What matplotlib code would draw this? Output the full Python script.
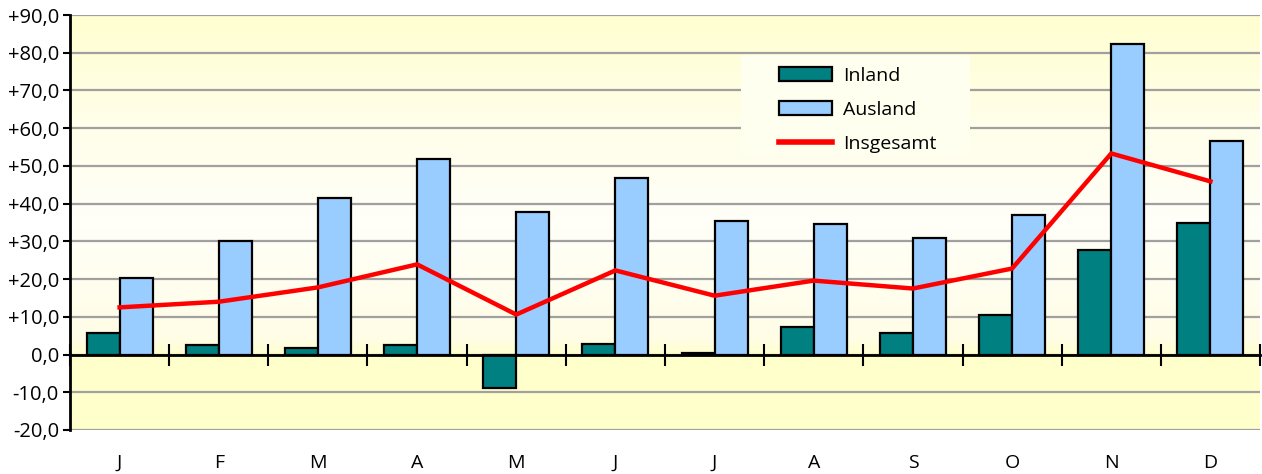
import matplotlib
matplotlib.use('Agg')
import matplotlib.pyplot as plt
import numpy as np
from matplotlib.colors import LinearSegmentedColormap
from matplotlib.ticker import FuncFormatter
from matplotlib.patches import Rectangle

months   = ['J', 'F', 'M', 'A', 'M', 'J', 'J', 'A', 'S', 'O', 'N', 'D']
inland   = [5.8, 2.4, 1.8, 2.6, -8.8, 2.9, 0.3, 7.4, 5.8, 10.6, 27.6, 35.0]
ausland  = [20.4, 30.2, 41.6, 51.7, 37.7, 46.7, 35.5, 34.5, 31.0, 37.1, 82.2, 56.5]
gesamt   = [12.5, 14.0, 17.8, 23.9, 10.6, 22.3, 15.6, 19.6, 17.5, 22.8, 53.3, 45.9]

plt.rcParams['font.family'] = ['Open Sans', 'DejaVu Sans']

W, H = 1262, 474
fig = plt.figure(figsize=(W/100., H/100.), dpi=100)
ax = fig.add_axes([70./W, 44./H, 1190./W, 415./H])

ymin, ymax = -20, 90
n = len(months)
x = np.arange(n)

# background gradient: yellow top, nearly white in the middle, yellow below zero
grad = LinearSegmentedColormap.from_list('bg', [
  (0.00, '#ffffcc'), (0.18, '#ffffcc'), (0.22, '#fffde6'),
  (0.50, '#fffff8'), (0.75, '#fffee8'), (1.00, '#ffffd0')])
ax.imshow(np.linspace(0, 1, 256).reshape(-1, 1), cmap=grad, aspect='auto',
          extent=(-0.5, n-0.5, ymin, ymax), origin='lower', zorder=-5)

ax.set_xlim(-0.5, n-0.5)
ax.set_ylim(ymin, ymax)

bw = 1/3.
b1 = ax.bar(x - bw/2, inland, bw, color='#008080', edgecolor='black', linewidth=1.6,
            label='Inland', zorder=3)
b2 = ax.bar(x + bw/2, ausland, bw, color='#99ccff', edgecolor='black', linewidth=1.6,
            label='Ausland', zorder=3)
l1, = ax.plot(x, gesamt, color='#ff0000', linewidth=3.2, label='Insgesamt', zorder=4,
              solid_joinstyle='miter')

# grid
ax.set_yticks(np.arange(ymin, ymax+1, 10))
ax.yaxis.grid(True, color='#a0a0a0', linewidth=1.6, zorder=1)
ax.set_axisbelow(True)
ax.yaxis.set_major_formatter(FuncFormatter(
  lambda v, p: ('%+.1f' % v).replace('.', ',') if v != 0 else '0,0'))
ax.tick_params(axis='y', direction='out', length=5, width=1.5, labelsize=14.5,
               colors='black', pad=3)

for s in ['top', 'right', 'bottom']:
  ax.spines[s].set_visible(False)
ax.spines['left'].set_linewidth(2)

ax.set_xticks(x)
ax.set_xticklabels(months, fontsize=14)
ax.tick_params(axis='x', length=0, pad=17)

# zero line with category boundary ticks
zero = ax.secondary_xaxis((0 - ymin) / float(ymax - ymin))
zero.spines['bottom'].set_linewidth(2)
zero.set_xticks(np.arange(-0.5, n, 1.0))
zero.tick_params(axis='x', direction='inout', length=16, width=1.5, labelbottom=False)
zero.set_zorder(3.5)

# legend background hides the grid lines behind it
ax.add_patch(Rectangle(((741-70)/1190., (430-154)/415.), (970-741)/1190., 99/415.,
                       transform=ax.transAxes, facecolor='#fffff0', edgecolor='none',
                       zorder=1.5))
leg = ax.legend([b1, b2, l1], ['Inland', 'Ausland', 'Insgesamt'],
                loc='upper left', bbox_to_anchor=((779-70)/1190., (430-67)/415.),
                frameon=False, fontsize=14, handlelength=2.75, handleheight=0.7,
                handletextpad=0.55, labelspacing=0.82, borderpad=0,
                borderaxespad=0)
leg.set_zorder(2)
for h in leg.legend_handles[:2]:
  h.set_linewidth(1.6)
leg.legend_handles[2].set_linewidth(4)

fig.savefig('out.png', dpi=100)
